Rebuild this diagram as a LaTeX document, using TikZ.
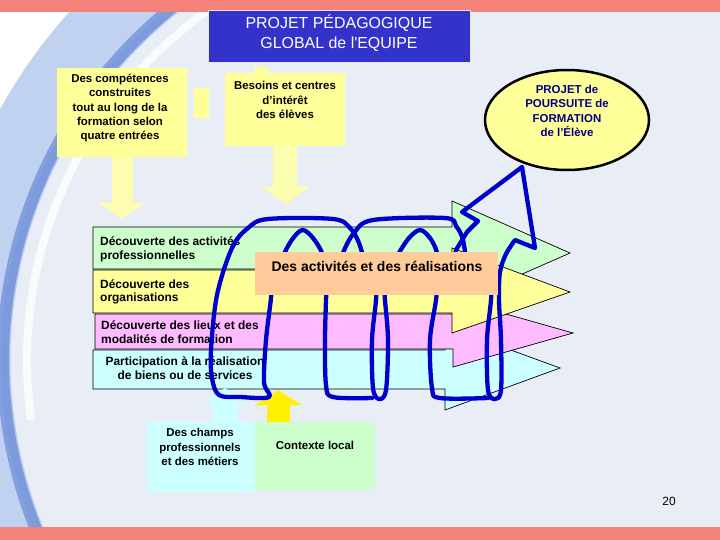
\documentclass[tikz,border=0pt]{standalone}
\usepackage{fontspec}
\setmainfont{Liberation Sans}
\usetikzlibrary{shapes.geometric}
\definecolor{salmon}{HTML}{F4827A}
\definecolor{titleblue}{HTML}{3333CC}
\definecolor{paleyellow}{HTML}{FFFF99}
\definecolor{arrowyellow}{HTML}{FFFFA8}
\definecolor{bandgreen}{HTML}{CCFFCC}
\definecolor{bandyellow}{HTML}{FFFF99}
\definecolor{bandpink}{HTML}{FFBBFF}
\definecolor{bandcyan}{HTML}{CCFFFF}
\definecolor{peach}{HTML}{FFCC99}
\definecolor{coilblue}{HTML}{0000CD}
\definecolor{navytext}{HTML}{000080}
\definecolor{innerbg}{HTML}{E8EDF6}
\definecolor{ringlight}{HTML}{8FAEE6}
\definecolor{ringdark}{HTML}{4F76CF}
\begin{document}
\begin{tikzpicture}[x=1bp,y=-1bp,
  boldtxt/.style={font=\bfseries\fontsize{11.5}{14.3}\selectfont, align=center, inner sep=0},
  bandtxt/.style={font=\bfseries\fontsize{12}{13.8}\selectfont, align=left, inner sep=0, anchor=west},
  coil/.style={draw=coilblue, line width=4.3bp, line cap=round, line join=round},
  bandline/.style={draw=black, line width=0.7bp},
  boxfill/.style={rectangle, inner sep=0, anchor=north west},
]
\useasboundingbox (0,0) rectangle (720,540);
% background
\fill[white] (0,0) rectangle (720,540);
\fill[innerbg] (455,360) circle (454);
\draw[ringlight, line width=75bp, opacity=.55] (455,360) ++(150:482) arc[start angle=150, end angle=245, radius=482];
\draw[ringdark, line width=12bp, opacity=.55] (455,360) ++(158:452) arc[start angle=158, end angle=240, radius=452];
\draw[white, line width=8bp, opacity=.8] (455,360) ++(172:428) arc[start angle=172, end angle=236, radius=428];
% bars
\fill[salmon] (0,0) rectangle (720,12);
\fill[salmon] (0,527) rectangle (720,540);
% title
\node[boxfill, fill=titleblue, draw=white!80!gray, line width=0.8bp, minimum width=262bp, minimum height=52bp] (title) at (208,10) {};
\node[font=\fontsize{16}{20}\selectfont, text=white, align=center, inner sep=0] (titletxt) at (339,33) {PROJET PÉDAGOGIQUE\\GLOBAL de l\textquotesingle EQUIPE};
% top boxes
\node[boxfill, fill=paleyellow, minimum width=130bp, minimum height=89bp] (comp) at (57,68) {};
\node[boxfill, fill=paleyellow, minimum width=15bp, minimum height=30bp] (tab1) at (194,88) {};
\node[boxfill, fill=paleyellow, minimum width=14bp, minimum height=8bp] (tab2) at (254,67) {};
\node[boxfill, fill=paleyellow, minimum width=120bp, minimum height=73bp] (besoins) at (225,73) {};
\node[boldtxt] (comptxt) at (120,108) {Des compétences\\construites\\tout au long de la\\formation selon\\ quatre entrées};
\node[boldtxt] (besointxt) at (285,100) {Besoins et centres\\d’intérêt\\des élèves};
% down arrows
\fill[arrowyellow, opacity=.9] (112,157) -- (133,157) -- (133,203) -- (145,203) -- (122,219) -- (98,203) -- (112,203) -- cycle;
\fill[arrowyellow, opacity=.9] (273,146) -- (297,146) -- (297,187) -- (310,187) -- (286,204) -- (261,187) -- (273,187) -- cycle;
% ellipse
\node[ellipse, draw=black, line width=2.5bp, fill=paleyellow, minimum width=164bp, minimum height=100bp, inner sep=0] (ell) at (567,120) {};
\node[boldtxt, text=navytext, font=\bfseries\fontsize{11.5}{14.5}\selectfont] (elltxt) at (567,111) {PROJET de\\POURSUITE de\\FORMATION\\de l’Élève};
% bands
\filldraw[bandline, fill=bandcyan] (93,350) -- (445,350) -- (445,326) -- (560,368) -- (445,410) -- (445,389) -- (93,389) -- cycle;
\filldraw[bandline, fill=bandpink] (95,314) -- (453,314) -- (453,299) -- (573,333) -- (453,367) -- (453,349) -- (95,349) -- cycle;
\filldraw[bandline, fill=bandgreen] (93,227) -- (452,227) -- (452,201) -- (570,253) -- (452,305) -- (452,269) -- (93,269) -- cycle;
\filldraw[bandline, fill=bandyellow] (93,270) -- (452,270) -- (452,248) -- (570,292) -- (452,333) -- (452,313) -- (93,313) -- cycle;
\node[bandtxt] (b1) at (100,249) {Découverte des activités\\professionnelles};
\node[bandtxt] (b2) at (100,292) {Découverte des\\organisations};
\node[bandtxt] (b3) at (101,332) {Découverte des lieux et des\\modalités de formation};
\node[boldtxt, font=\bfseries\fontsize{12}{13.8}\selectfont] (b4) at (185,368) {Participation à la réalisation\\de biens ou de services};
% bottom boxes and up arrows
\node[boxfill, fill=bandcyan, minimum width=108bp, minimum height=70bp] (champs) at (147,422) {};
\node[boxfill, fill=bandgreen, minimum width=120bp, minimum height=68bp] (contexte) at (255,422) {};
\fill[bandcyan] (213,422) -- (237,422) -- (237,403) -- (247,403) -- (225,388) -- (203,403) -- (213,403) -- cycle;
\fill[yellow] (267,422) -- (290,422) -- (290,405) -- (302,405) -- (278,390) -- (255,405) -- (267,405) -- cycle;
\node[boldtxt] (champstxt) at (200,447) {Des champs\\professionnels\\et des métiers};
\node[boldtxt, font=\fontsize{11.5}{14}\selectfont\bfseries] (contextetxt) at (315,445) {Contexte local};
% coil
\draw[coil] plot[smooth, tension=0.55] coordinates {(273,270) (271,298) (266,340) (264,382) (269,397) (240,397) (219,395) (212,378) (211,350) (217,295) (232,248) (248,228) (268,219) (333,219) (350,228) (359,243) (366,268)};
\draw[coil] plot[smooth, tension=0.55] coordinates {(280,270) (285,252) (294,237) (303,230) (313,238) (322,253) (327,275) (326,300) (325,340) (326,385) (333,397) (372,398)};
\draw[coil] plot[smooth, tension=0.55] coordinates {(377,270) (376,300) (372,340) (373,388) (379,399) (386,390) (388,340) (385,300) (383,270)};
\draw[coil] plot[smooth, tension=0.55] coordinates {(337,275) (343,253) (354,233) (373,220) (445,218) (456,226) (463,240) (467,268)};
\draw[coil] plot[smooth, tension=0.55] coordinates {(394,270) (398,255) (409,238) (420,230) (430,238) (437,253) (438,275) (436,300) (430,340) (432,388) (440,398) (488,398)};
\draw[coil] plot[smooth, tension=0.55] coordinates {(492,270) (491,300) (487,340) (488,390) (495,399) (501,390) (501,340) (499,300) (500,272) (506,254) (515,240)} -- (535,248) -- (522,167) -- (462,212) -- (478,221) -- (467,232) -- (456,250) -- (452,268);
% centre box
\node[boxfill, fill=peach, minimum width=243bp, minimum height=43bp] (orange) at (255,252) {};
\node[font=\bfseries\fontsize{14}{16}\selectfont, inner sep=0] (orangetxt) at (377,266) {Des activités et des réalisations};
% page number
\node[font=\fontsize{12}{14}\selectfont, inner sep=0] (pagenum) at (669,501) {20};
\end{tikzpicture}
\end{document}
